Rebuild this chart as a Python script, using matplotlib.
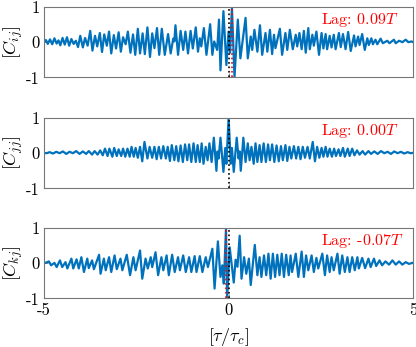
import matplotlib
matplotlib.use("Agg")
import matplotlib.pyplot as plt

plt.rcParams['mathtext.fontset'] = 'cm'

# ---- data (extrema of each correlation curve) ----
tau_ij = [-5.00, -4.95, -4.90, -4.84, -4.78, -4.72, -4.66, -4.61, -4.56, -4.50, -4.44, -4.38, -4.32,
          -4.26, -4.20, -4.14, -4.08, -4.02, -3.95, -3.89, -3.82, -3.75, -3.69, -3.62, -3.56, -3.49,
          -3.43, -3.37, -3.30, -3.24, -3.18, -3.11, -3.05, -2.98, -2.92, -2.86, -2.79, -2.73, -2.66,
          -2.59, -2.53, -2.46, -2.40, -2.33, -2.27, -2.20, -2.13, -2.07, -2.01, -1.94, -1.88, -1.81,
          -1.73, -1.64, -1.57, -1.50, -1.47, -1.44, -1.37, -1.30, -1.23, -1.17, -1.10, -1.03, -0.97,
          -0.89, -0.83, -0.78, -0.74, -0.67, -0.60, -0.50, -0.44, -0.39, -0.31, -0.26, -0.22, -0.14,
          -0.06, 0.00, 0.04, 0.09, 0.16, 0.25, 0.32, 0.46, 0.52, 0.60, 0.64, 0.70, 0.78, 0.85, 0.91,
          1.00, 1.05, 1.12, 1.18, 1.23, 1.27, 1.39, 1.45, 1.54, 1.59, 1.66,
          1.74, 1.82, 1.86, 1.92, 1.98, 2.04, 2.09, 2.16, 2.20, 2.27, 2.31, 2.38, 2.45, 2.52, 2.57,
          2.63, 2.67, 2.74, 2.79, 2.85, 2.90, 2.99, 3.04, 3.10, 3.17, 3.24, 3.31, 3.40, 3.44, 3.51,
          3.55, 3.62, 3.69, 3.76, 3.80, 3.87, 3.91, 3.98, 4.03, 4.12, 4.18, 4.30, 4.36, 4.48, 4.53,
          4.62, 4.71, 4.80, 4.87, 4.96, 5.00]
c_ij = [0.00, 0.06, -0.05, 0.08, -0.06, 0.11, -0.04, 0.05, -0.09, 0.12, -0.07, 0.14, -0.10,
        0.09, -0.05, 0.04, -0.14, 0.18, -0.15, 0.12, -0.10, 0.32, -0.24, 0.18, -0.12, 0.26,
        -0.28, 0.22, -0.10, 0.30, -0.32, 0.20, -0.18, 0.28, -0.27, 0.14, -0.06, 0.30, -0.30,
        0.22, -0.36, 0.38, -0.32, 0.25, -0.34, 0.42, -0.42, 0.25, -0.17, 0.40, -0.36, 0.38,
        -0.36, 0.23, -0.32, 0.10, 0.02, 0.48, -0.36, 0.32, -0.22, 0.30, -0.32, 0.32, -0.18,
        0.42, -0.27, 0.11, -0.12, 0.40, -0.36, 0.51, -0.36, 0.02, -0.22, 0.64, -0.80, 0.88,
        -0.65, 0.30, -0.30, 1.00, -1.00, 0.64, -0.46, 0.69, -0.46, 0.16, -0.22, 0.35, -0.27, 0.48, -0.36,
        0.26, -0.27, 0.35, -0.34, 0.21, -0.17, 0.38, -0.36, 0.26, -0.22, 0.35,
        -0.20, 0.21, -0.12, 0.26, -0.20, 0.32, -0.30, 0.40, -0.20, 0.21, -0.10, 0.30, -0.36, 0.26, -0.18,
        0.23, -0.20, 0.18, -0.15, 0.21, -0.20, 0.26, -0.14, 0.23, -0.20, 0.29, -0.25, 0.19, -0.12, 0.16,
        -0.08, 0.23, -0.22, 0.11, -0.08, 0.11, -0.06, 0.07, -0.06, 0.10, -0.03, 0.04, -0.03, 0.07, -0.03,
        0.04, 0.00, 0.07, 0.00, 0.02, 0.00]

# auto-correlation: right half only, it is symmetric about zero
tau_jj_half = [0.00, 0.06, 0.09, 0.14, 0.22, 0.27, 0.30, 0.33, 0.40, 0.46, 0.52, 0.57, 0.62, 0.68,
               0.73, 0.78, 0.84, 0.89, 0.95, 1.01, 1.07, 1.12, 1.18, 1.24, 1.30, 1.36, 1.42, 1.47,
               1.54, 1.59, 1.65, 1.70, 1.77, 1.83, 1.89, 1.95, 2.01, 2.07, 2.14, 2.20, 2.28, 2.34,
               2.40, 2.46, 2.52, 2.57, 2.63, 2.68, 2.74, 2.80, 2.86, 2.91, 2.98, 3.03, 3.10, 3.15,
               3.23, 3.28, 3.35, 3.41, 3.48, 3.55, 3.63, 3.70, 3.79, 3.86, 3.95, 4.04, 4.13, 4.22,
               4.31, 4.40, 4.49, 4.58, 4.67, 4.76, 4.85, 4.93, 5.00]
c_jj_half = [1.00, -0.30, 0.15, -0.53, 0.44, -0.15, 0.05, -0.50, 0.44, -0.25, 0.28, -0.20, 0.18, -0.30,
             0.28, -0.25, 0.23, -0.25, 0.28, -0.25, 0.25, -0.20, 0.25, -0.25, 0.22, -0.23, 0.20, -0.20,
             0.23, -0.22, 0.18, -0.15, 0.20, -0.15, 0.18, -0.17, 0.18, -0.13, 0.18, -0.15, 0.32, -0.23,
             0.18, -0.13, 0.15, -0.10, 0.18, -0.10, 0.13, -0.10, 0.13, -0.08, 0.11, -0.08, 0.15, -0.10,
             0.13, -0.08, 0.13, -0.06, 0.08, -0.04, 0.06, -0.04, 0.06, -0.02, 0.05, -0.02, 0.06, 0.00,
             0.04, -0.02, 0.05, 0.00, 0.04, -0.01, 0.03, 0.00, 0.01]

tau_kj = [-4.99, -4.87, -4.81, -4.72, -4.66, -4.57, -4.51, -4.42, -4.37, -4.26, -4.21, -4.12, -4.06,
          -3.99, -3.92, -3.83, -3.79, -3.70, -3.65, -3.51, -3.47, -3.38, -3.33, -3.24, -3.18, -3.09,
          -3.03, -2.93, -2.88, -2.76, -2.67, -2.58, -2.52, -2.40, -2.34, -2.25, -2.19, -2.11, -2.07,
          -1.98, -1.91, -1.82, -1.77, -1.68, -1.62, -1.53, -1.46, -1.37, -1.32, -1.23, -1.16, -1.07,
          -1.01, -0.92, -0.87, -0.78, -0.71, -0.62, -0.56,
          -0.44, -0.38, -0.29, -0.22, -0.17, -0.13, -0.07, -0.04, 0.03,
          0.14, 0.19, 0.24, 0.30, 0.35, 0.42, 0.48, 0.55, 0.60, 0.71, 0.78, 0.84, 0.89, 0.96, 1.02,
          1.08, 1.14, 1.20, 1.26, 1.32, 1.38, 1.44, 1.50, 1.56, 1.63, 1.68, 1.72, 1.82, 1.89, 1.98,
          2.04, 2.10, 2.16, 2.25, 2.31, 2.38, 2.43, 2.54, 2.61, 2.67, 2.74, 2.79, 2.85, 2.95, 3.01,
          3.08, 3.15, 3.22, 3.28, 3.35, 3.42, 3.49, 3.53, 3.62, 3.70, 3.79, 3.85, 3.94, 4.00, 4.09,
          4.16, 4.25, 4.35, 4.44, 4.53, 4.62, 4.71, 4.80, 4.89, 4.98, 5.00]
c_kj = [0.00, 0.05, -0.06, 0.01, -0.11, 0.08, -0.11, 0.03, -0.15, 0.13, -0.15, 0.11, -0.15,
        0.17, -0.25, 0.13, -0.14, 0.08, -0.17, 0.24, -0.30, 0.13, -0.20, 0.17, -0.25, 0.22,
        -0.17, 0.13, -0.20, 0.24, -0.34, 0.17, -0.20, 0.36, -0.44, 0.13, -0.15, 0.17, -0.11,
        0.31, -0.34, 0.17, -0.20, 0.22, -0.34, 0.24, -0.25, 0.17, -0.20, 0.22, -0.25, 0.17,
        -0.25, 0.20, -0.25, 0.20, -0.25, 0.17, -0.11,
        0.41, -0.72, 0.62, -0.39, -0.06, -0.58, 1.00, -1.00, 0.45,
        -0.55, 0.10, -0.10, 0.78, -0.44, 0.17, -0.30, 0.13, -0.62, 0.52, -0.34, 0.17, -0.39, 0.22, -0.34,
        0.27, -0.44, 0.27, -0.39, 0.24, -0.34, 0.27, -0.39, 0.24, -0.34, 0.22, -0.25, 0.27, -0.39, 0.33,
        -0.39, 0.22, -0.20, 0.22, -0.25, 0.15, -0.15, 0.27, -0.34, 0.22, -0.25, 0.17, -0.20, 0.27, -0.30,
        0.22, -0.25, 0.17, -0.25, 0.17, -0.20, 0.17, -0.15, 0.15, -0.14, 0.13, -0.11, 0.13, -0.08, 0.08,
        -0.06, 0.05, -0.04, 0.08, -0.04, 0.05, -0.04, 0.03, -0.02, 0.01, 0.00]

lags = [0.09, 0.00, -0.07]
lag_text = ['0.09', '0.00', '-0.07']
ylabels = [r'$[C_{ij}]$', r'$[C_{jj}]$', r'$[C_{kj}]$']

tau_jj = [-t for t in tau_jj_half[::-1]] + tau_jj_half[1:]
c_jj = c_jj_half[::-1] + c_jj_half[1:]

series = [(tau_ij, c_ij), (tau_jj, c_jj), (tau_kj, c_kj)]

fig = plt.figure(figsize=(4.16, 3.47), dpi=100)
bottoms = [0.777, 0.457, 0.140]
frame = '#777777'

for i, (t, c) in enumerate(series):
    ax = fig.add_axes([0.106, bottoms[i], 0.887, 0.203])
    ax.plot(t, c, color='#0072BD', lw=1.6)
    ax.axvline(0, color='k', ls=':', lw=1.2)
    if lags[i] != 0:
        ax.axvline(lags[i], color='r', ls=':', lw=1.2)
    ax.set_xlim(-5, 5)
    ax.set_ylim(-1, 1)
    ax.set_yticks([-1, 0, 1])
    ax.set_yticklabels(['-1', '0', '1'], fontfamily='cmr10', fontsize=12)
    ax.set_xticks([-5, 0, 5])
    if i == 2:
        ax.set_xticklabels(['-5', '0', '5'], fontfamily='cmr10', fontsize=12)
    else:
        ax.set_xticklabels([])
    ax.tick_params(direction='in', length=3, width=0.6, color=frame, pad=3)
    for s in ax.spines.values():
        s.set_color(frame)
        s.set_linewidth(0.8)
    ax.text(0.75, 0.82, 'Lag: ' + lag_text[i] + '$T$', color='r', transform=ax.transAxes,
            ha='left', va='center', fontfamily='cmr10', fontsize=11.5)
    fig.text(0.033, bottoms[i] + 0.1015, ylabels[i], rotation=90, ha='center', va='center',
             fontsize=13)

fig.text(0.5495, 0.029, r'$[\tau/\tau_c]$', ha='center', va='center', fontsize=13)

fig.savefig('out.png', dpi=100)
